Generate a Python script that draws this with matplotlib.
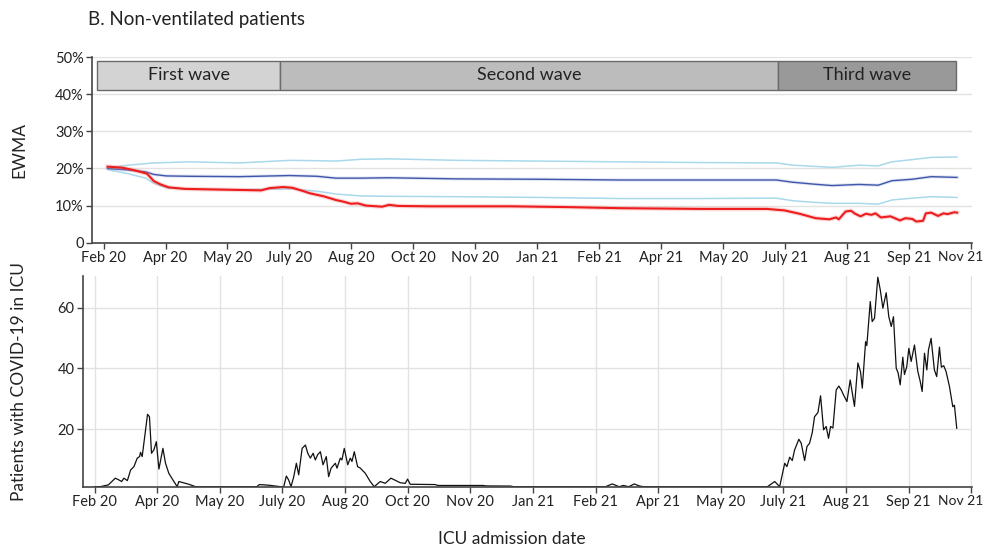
import numpy as np
import matplotlib
matplotlib.use('Agg')
import matplotlib.pyplot as plt
import matplotlib.transforms as mtransforms
from matplotlib.patches import Rectangle

plt.rcParams['font.family'] = ['Lato', 'DejaVu Sans']

# day index counted from the first tick ("Feb 20")
tick_labels = ['Feb 20', 'Apr 20', 'May 20', 'July 20', 'Aug 20', 'Oct 20', 'Nov 20',
               'Jan 21', 'Feb 21', 'Apr 21', 'May 20', 'July 21', 'Aug 21', 'Sep 21', 'Nov 21']
tick_step = 45.6

waves = ['First wave', 'Second wave', 'Third wave']
wave_start = [-4.8, 130, 496]
wave_end = [130, 496, 627]
wave_colors = ['#d3d3d3', '#bcbcbc', '#999999']

# EWMA control limits (%)
band_days = [3, 18, 31, 37, 46, 63, 100, 137, 157, 171, 190, 210, 260, 320, 380, 440,
             495, 507, 522, 536, 556, 570, 580, 595, 609, 628]
upper = [20.2, 20.9, 21.3, 21.5, 21.6, 21.8, 21.5, 22.2, 22.1, 22.0, 22.5, 22.6, 22.2, 22.0,
         21.8, 21.6, 21.5, 20.9, 20.6, 20.3, 20.9, 20.7, 21.8, 22.4, 23.0, 23.1]
centre = [20.0, 19.6, 19.1, 18.4, 18.0, 17.9, 17.8, 18.1, 17.9, 17.4, 17.4, 17.5, 17.2, 17.1,
          16.9, 16.9, 16.9, 16.3, 15.8, 15.4, 15.7, 15.5, 16.7, 17.1, 17.8, 17.6]
lower = [19.7, 18.6, 17.4, 16.0, 14.8, 14.4, 14.3, 14.5, 13.9, 13.1, 12.6, 12.5, 12.4, 12.2,
         11.9, 11.9, 12.0, 11.3, 10.9, 10.6, 10.6, 10.4, 11.5, 12.0, 12.4, 12.2]

ewma_days = [3, 14, 23, 32, 37, 42, 48, 60, 88, 116, 122, 132, 139, 147, 152, 162, 171, 176,
             182, 187, 193, 205, 210, 217, 240, 300, 340, 380, 440, 488, 501, 512, 524, 534,
             539, 541, 546, 550, 553, 557, 561, 565, 568, 572, 579, 586, 590, 595, 598, 603,
             605, 609, 614, 618, 621, 626, 628]
ewma = [20.5, 20.2, 19.5, 18.6, 16.6, 15.7, 14.9, 14.5, 14.3, 14.1, 14.7, 15.0, 14.8, 13.9,
        13.3, 12.5, 11.5, 11.1, 10.5, 10.6, 10.0, 9.7, 10.2, 9.9, 9.8, 9.8, 9.6, 9.3, 9.1, 9.1,
        8.7, 7.8, 6.6, 6.3, 6.8, 6.3, 8.4, 8.6, 7.8, 7.1, 7.8, 7.5, 7.9, 6.8, 7.1, 6.0, 6.6,
        6.4, 5.7, 5.9, 7.9, 8.1, 7.2, 7.9, 7.7, 8.2, 8.1]

# patients with COVID-19 in ICU
icu_days = [0, 4, 10, 15, 17.7, 19.6, 21.3, 23.8, 26.2, 28.6, 31, 32.7, 33.4, 34.6, 36.6, 38.5,
            39.9, 41.4, 43.1, 44.9, 46.8, 49.7, 51.6, 54, 57, 60.1, 61.3, 68.6, 73.5, 118, 120,
            126.5, 135.3, 137.7, 139.6, 141.3, 143, 145, 146.9, 148.6, 151.1, 153.5, 155.2,
            157.1, 159.1, 160.7, 162.4, 164.4, 166.3, 168.7, 170.4, 172.2, 175.3, 176.5, 178.9,
            180.1, 181.8, 184.3, 186.2, 187.4, 189.1, 191.5, 193.5, 197.1, 200.7, 203.6, 208,
            211.6, 215.8, 222.5, 226.2, 227.9, 229.8, 248, 250, 283, 285, 303, 305, 372, 377,
            382, 385, 389, 393, 397, 400, 490, 495.3, 498.9, 502.6, 504.2, 506.2, 508.1, 509.8,
            512.9, 514.6, 517.1, 518.8, 520.7, 522.7, 524.3, 526.8, 528.7, 530.9, 532.8, 534.5,
            536, 537.7, 540.1, 542, 543.8, 545.4, 547.9, 550.3, 553.4, 555.9, 557.8, 559.1,
            561.5, 562.4, 564.9, 566.3, 568, 570.4, 572.2, 574.1, 576.5, 578.4, 580.2, 581.8,
            583.8, 585.2, 586.7, 588.6, 589.8, 591.5, 593, 594.7, 597.1, 599.5, 601.3, 602.7,
            604.4, 606.1, 607.3, 609.2, 611.6, 613.3, 615.3, 616.7, 618.4, 620.1, 622.6, 625,
            626.2, 627.9]
icu_count = [1.1, 1.1, 1.7, 3.9, 3.3, 2.8, 3.9, 3.1, 6.6, 7.7, 10.5, 11, 12.4, 11, 18.1, 24.9,
             24.1, 12.1, 13.2, 15.9, 6.9, 13.7, 8.8, 5.5, 3.3, 1.1, 2.8, 1.9, 1.1, 1.1, 1.8,
             1.6, 1.1, 1.1, 4.6, 3.3, 1.1, 4.4, 8.8, 5, 13.7, 14.8, 12.1,
             10.5, 12.1, 9.9, 11.6, 12.6, 8.3, 11, 4.4, 7.2, 8.8, 7.2, 10.5,
             9.9, 13.7, 8.3, 10.5, 9.4, 12.6, 7.7, 7.2, 5.5, 2.8, 1.1, 2.8,
             2.2, 3.9, 2.4, 2.2, 3.6, 1.9, 1.8, 1.5, 1.5, 1.35, 1.3, 1.1, 1.1, 2.0,
             1.1, 1.5, 1.1, 2.0, 1.3, 1.1, 1.1, 2.8, 1.1, 8.8, 7.7, 10.8, 9.7, 13.2,
             16.7, 15.4, 9.7, 14.3, 15.4, 19, 24.1, 25.5, 31, 19.8, 20.9, 17,
             20.9, 20.4, 32.9, 34.2, 32.9, 31.3, 29.1, 36.2, 27.5, 41.8, 38.9, 33.5,
             48.8, 47.5, 62, 55.4, 56.5, 70, 65.8, 59.8, 64.9, 57, 53.8, 57,
             40.1, 38.5, 34.6, 43.7, 38, 40.6, 46.6, 42.3, 47.7, 39.1, 35.7, 32.4,
             45, 39.5, 46.1, 49.9, 39.5, 37.3, 47, 40.4, 40.9, 39, 34, 27.4,
             27.9, 20.3]

tick_pos = np.arange(len(tick_labels)) * tick_step
xlim = (-8.5, 639)
txt = '#222222'
grid_c = '#e2e2e2'
spine_c = '#444444'

fig = plt.figure(figsize=(9.87, 5.49), dpi=100)

# ---- top panel: EWMA
ax1 = fig.add_axes([0.0932, 0.558, 0.8916, 0.3377])
ax1.set_xlim(xlim)
ax1.set_ylim(0, 50)
ax1.set_yticks([0, 10, 20, 30, 40, 50])
ax1.set_yticklabels(['0', '10%', '20%', '30%', '40%', '50%'])
ax1.yaxis.grid(True, color=grid_c, lw=1)
ax1.set_axisbelow(True)

for name, s, e, c in zip(waves, wave_start, wave_end, wave_colors):
    ax1.add_patch(Rectangle((s, 41.2), e - s, 7.8, facecolor=c, edgecolor='#6a6a6a', lw=1, zorder=3))
    ax1.text((s + e) / 2, 45.1, name, ha='center', va='center', fontsize=13, color=txt, zorder=4)

ax1.plot(band_days, upper, color='#a9d9ea', lw=1.1)
ax1.plot(band_days, lower, color='#a9d9ea', lw=1.1)
ax1.plot(band_days, centre, color='#9aa8d8', lw=2.4, alpha=0.3)
ax1.plot(band_days, centre, color='#3f57aa', lw=1.0)
ax1.plot(ewma_days, ewma, color='#f08080', lw=3.2, alpha=0.3)
ax1.plot(ewma_days, ewma, color='#ee1c1c', lw=1.5)
ax1.set_ylabel('EWMA', fontsize=12.5, color=txt, labelpad=20)

# ---- bottom panel: ICU census
ax2 = fig.add_axes([0.0841, 0.1135, 0.9007, 0.3838])
ax2.set_xlim(xlim)
ax2.set_ylim(1.1, 70.4)
ax2.set_yticks([20, 40, 60])
ax2.grid(True, color=grid_c, lw=1)
ax2.set_axisbelow(True)
ax2.plot(icu_days, icu_count, color='#111111', lw=0.9)
ax2.set_ylabel('Patients with COVID-19 in ICU', fontsize=12.5, color=txt, labelpad=22)

for ax in (ax1, ax2):
    ax.set_xticks(tick_pos)
    ax.set_xticklabels(tick_labels)
    for side in ('top', 'right'):
        ax.spines[side].set_visible(False)
    for side in ('left', 'bottom'):
        ax.spines[side].set_color(spine_c)
        ax.spines[side].set_linewidth(1.2)
    ax.tick_params(labelsize=10.5, colors=spine_c, labelcolor=txt, length=4, width=1, pad=2)
    last = ax.get_xticklabels()[-1]
    last.set_fontsize(10)
    last.set_transform(last.get_transform() + mtransforms.ScaledTranslation(-10 / 100, 0, fig.dpi_scale_trans))

fig.text(88 / 987, 1 - 20 / 549, 'B. Non-ventilated patients', fontsize=13.5, color=txt, va='center')
fig.text(512 / 987, 1 - 539 / 549, 'ICU admission date', fontsize=12.5, color=txt, ha='center', va='center')

fig.savefig('out.png', dpi=100)
